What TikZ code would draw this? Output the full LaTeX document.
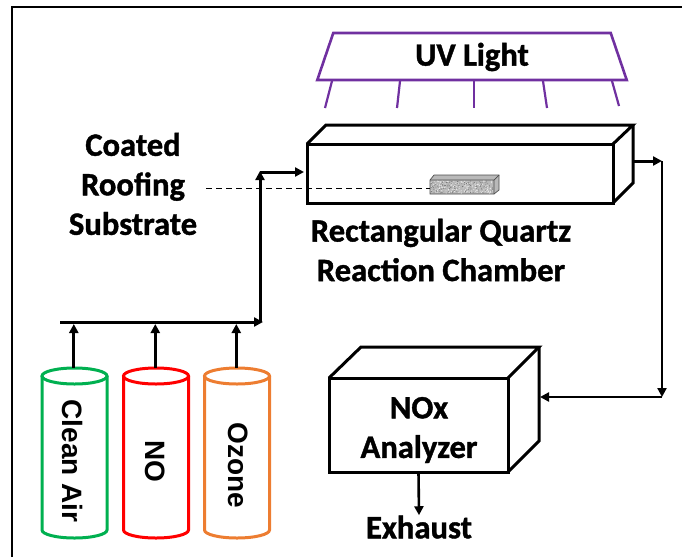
\documentclass[tikz,border=0pt]{standalone}
\usepackage{fontspec}
\setmainfont[BoldFeatures={FakeBold=1.2}]{Carlito}
\newfontfamily\gasfont{Liberation Sans}
\usetikzlibrary{arrows.meta,calc,shapes.geometric}
\definecolor{uvpurple}{RGB}{112,48,160}
\definecolor{airgreen}{RGB}{0,176,80}
\definecolor{ozoneorange}{RGB}{237,125,49}
\tikzset{
  lbl/.style={font=\fontsize{32.6}{39.5}\selectfont\bfseries, align=center, inner sep=0pt},
  gaslbl/.style={font=\gasfont\fontsize{28}{28}\selectfont\bfseries, rotate=-90, inner sep=0pt},
  faceline/.style={draw, line width=3pt, line join=miter},
  flow/.style={line width=3pt, -{Triangle[length=9pt,width=9pt]}},
  thinflow/.style={line width=2.6pt, -{Triangle[length=9pt,width=9pt]}},
  gasbody/.style={minimum height=154pt, minimum width=65pt, inner sep=0pt, outer sep=0pt},
  ray/.style={uvpurple, line width=2.2pt}
}
\begin{document}
\begin{tikzpicture}[x=1pt,y=-1pt]
    \useasboundingbox (0,0) rectangle (682,557);
    % Frame
    \draw[line width=1.6pt] (12,557) -- (12,7) -- (682,7);

    % UV lamp
    \node[trapezium, draw=uvpurple, line width=2.6pt, trapezium left angle=77, trapezium right angle=77,
      trapezium stretches=true, minimum width=310pt, minimum height=47pt, inner sep=0pt, lbl] (lamp) at (472,56.5) {\phantom{UV Light}};
    \node[lbl] (lamplbl) at (472,57) {UV Light};
    \draw[ray] (332,81) -- (325,108);
    \draw[ray] (400,81) -- (397,108);
    \draw[ray] (474,81) -- (474,108);
    \draw[ray] (543,81) -- (547,108);
    \draw[ray] (612,81) -- (619,106);

    % Chamber
    \node[faceline, minimum width=306pt, minimum height=59pt, inner sep=0pt, outer sep=0pt] (chamber) at (460,173.5) {};
    \draw[faceline] (chamber.north west) -- (326,125) -- (633,125) -- (chamber.north east);
    \draw[faceline] (633,125) -- (633,183) -- (chamber.south east);
    \coordinate (chamberout) at (633,161);
    \coordinate (chamberin) at (304,172);

    % Substrate
    \filldraw[fill=gray!55, draw=black!70, line width=.7pt] (430,180) -- (434,175) -- (499,175) -- (499,190) -- (494,194) -- (430,194) -- cycle;
    \draw[black!70, line width=.7pt] (430,180) -- (494,180) -- (499,175) (494,180) -- (494,194);
    \pgfmathsetseed{7}
    \foreach \i in {1,...,160} {
        \fill[white!85!gray] ({431+62*rnd},{181+12*rnd}) circle (.55pt);
        \fill[black!60] ({431+62*rnd},{181+12*rnd}) circle (.4pt);
    }
    \node[lbl] (coated) at (133,184) {Coated\\Roofing\\Substrate};
    \coordinate (dashstart) at (206,188);
    \coordinate (sample) at (430,188);
    \draw[line width=.9pt, dash pattern=on 6pt off 4pt] (dashstart) -- (sample);
    \node[lbl] (chamberlbl) at (441,250) {Rectangular Quartz\\Reaction Chamber};

    % Cylinders
    \foreach \name/\col/\cx in {air/airgreen/74.5, no/red/156, ozone/ozoneorange/237} {
        \node[gasbody] (\name) at (\cx,453) {};
        \draw[\col, line width=3pt] (\name.north) ellipse (32.5pt and 8pt);
        \draw[\col, line width=3pt] (\name.north west) -- (\name.south west)
            arc[start angle=180, end angle=360, x radius=32.5pt, y radius=8pt] -- (\name.north east);
        \coordinate (\name-top) at ($(\name.north)+(-.7,-8)$);
        \coordinate (\name-tip) at ($(\name.north)+(-.7,-52)$);
    }
    \node[gaslbl] (airlbl) at (73,461) {Clean Air};
    \node[gaslbl] (nolbl) at (155,461) {NO};
    \node[gaslbl] (ozonelbl) at (238,465) {Ozone};

    % Gas manifold
    \coordinate (mstart) at (60,322);
    \coordinate (mend) at (263,322);
    \coordinate (riser) at (260,171);
    \draw[flow] (mstart) -- (mend);
    \draw[flow] (air-top) -- (air-tip);
    \draw[flow] (no-top) -- (no-tip);
    \draw[flow] (ozone-top) -- (ozone-tip);
    \draw[flow] (260,322) -- (riser);
    \draw[flow] (260,172) -- (chamberin);

    % Analyzer
    \node[faceline, minimum width=179pt, minimum height=94pt, inner sep=0pt, outer sep=0pt] (analyzer) at (418.5,425) {};
    \node[lbl] (analyzerlbl) at (419,430) {NOx\\Analyzer};
    \draw[faceline] (analyzer.north west) -- (361,347) -- (539,347) -- (analyzer.north east);
    \draw[faceline] (539,347) -- (539,441) -- (analyzer.south east);

    % Outlet
    \coordinate (cornertop) at (662,161);
    \coordinate (cornerbottom) at (662,397);
    \coordinate (analyzerin) at (540,397);
    \draw[flow] (chamberout) -- (cornertop);
    \draw[thinflow] (cornertop) -- (cornerbottom);
    \draw[thinflow] (cornerbottom) -- (analyzerin);

    % Exhaust
    \node[lbl] (exhaust) at (419,527) {Exhaust};
    \draw[thinflow] (analyzer.south) -- (exhaust.north);
\end{tikzpicture}
\end{document}
